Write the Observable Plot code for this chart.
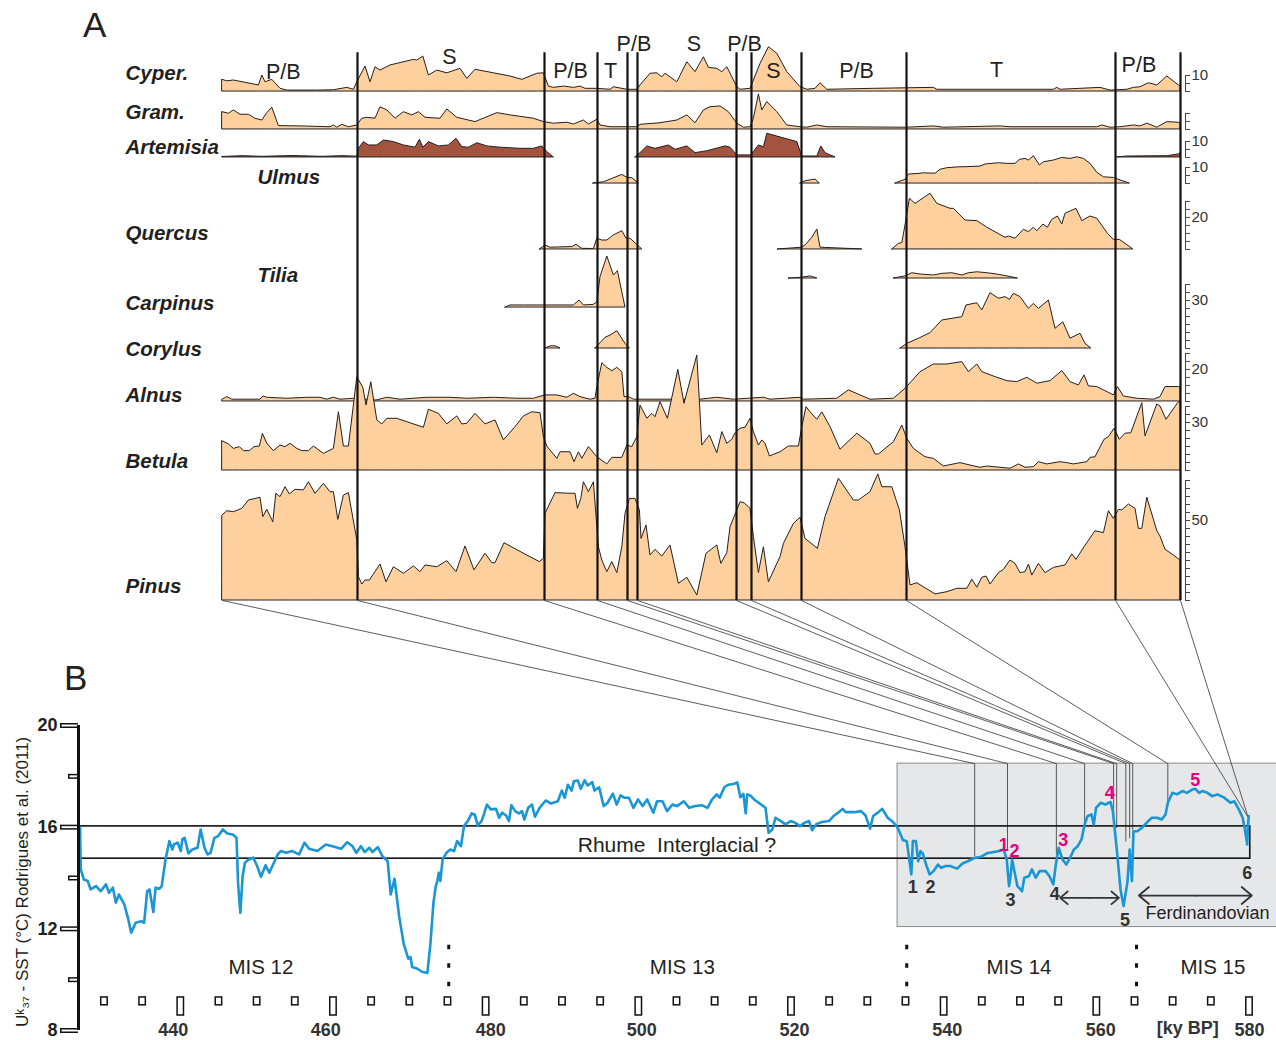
<!DOCTYPE html>
<html><head><meta charset="utf-8">
<script src="https://cdn.jsdelivr.net/npm/d3@7"></script>
<script src="https://cdn.jsdelivr.net/npm/@observablehq/plot@0.6"></script>
<style>
body{margin:0;background:#fff;font-family:"Liberation Sans",Arial,Helvetica,sans-serif;}
#fig{position:relative;width:1276px;height:1040px;overflow:hidden;background:#fff}
#fig svg{display:block}
.panel{position:absolute;font-size:35px;line-height:40px;color:#231f20}
</style></head><body>
<div id="fig">
  <div id="plotA"></div>
  <div id="plotB"></div>
  <div class="panel" style="left:83px;top:5px">A</div>
  <div class="panel" style="left:64px;top:658px">B</div>
</div>
<script>
// ---------------- DATA: panel A (pollen %, x = depth in cm) ----------------
const cyperus = [[[0,7.3],[2.4,6.4],[5.7,6.9],[18.2,3.8],[19.9,10],[21.5,5.8],[24.9,7.3],[29,1.7],[32.4,0.6],[47.4,0.6],[55.7,0.8],[62.4,2.3],[65.7,1.1],[67.4,5.8],[71.5,15.6],[74,5.8],[76.5,15.2],[79,13.1],[84,16.3],[95.7,19.8],[97.4,19.4],[100.4,21.9],[103.2,10],[107.4,13.1],[112.4,11.4],[119,14.2],[122.4,7.9],[126.5,13.6],[135.7,11.4],[144,9.4],[149.9,7.3],[157.4,11.1],[160.7,11.4],[163.2,3.1],[165.7,2.3],[170.7,3.1],[175.7,2.3],[179,3.1],[181.5,1.7],[187.4,1.7],[194,1.1],[195.7,2.7],[202.4,1.1],[207.4,1.1],[209,3.8],[214,11.1],[217.4,11.4],[219.9,8.9],[221.5,11.1],[227.4,5.8],[232.4,18.3],[236.5,12.1],[240.7,21.4],[243.2,14.8],[247.4,14.2],[249.9,12.1],[252.4,15.2],[257.4,2.7],[259,1.1],[264,1.7],[265.7,6.9],[269,17.3],[273.2,27.7],[277.4,23.6],[282.4,12.1],[289,2.7],[292.4,1.1],[296.5,1.7],[299,5.2],[302.4,1.1],[325.7,1.7],[355.7,2.3],[357.4,1.1],[415.7,1.1],[417.4,2.3],[419,1.1],[439,2.3],[444,0.6],[452.4,1.1],[455.7,2.3],[459,2.7],[463.2,5.2],[467.4,3.8],[472.4,9.4],[478.2,3.8],[479,3.1]]];
const gramineae = [[[0,10.8],[3.2,9.8],[5.7,11.9],[9,9.2],[13.2,9.2],[16.5,6.7],[19.9,5.6],[22.4,10.2],[24.9,13.6],[28.2,2.1],[39,1.9],[54,1.4],[55.7,2.5],[57.4,1.1],[59.9,2.9],[63.2,1.4],[67.4,2.5],[69.9,6.7],[72.4,7.3],[76.5,6.7],[79,13.9],[82.4,11.9],[86.5,6.7],[90.7,10.8],[94.9,8.8],[98.2,10.8],[101.5,7.3],[109,6.7],[112.4,12.5],[117.4,7.3],[126.5,4.6],[137.4,10.2],[144,8.8],[155.7,6.7],[160.7,4.6],[165.7,3.6],[172.4,4.2],[175.7,3.1],[180.7,5.6],[183.2,3.1],[187.4,6.1],[189,2.5],[194,1.4],[207.4,1.4],[209,2.9],[219,3.9],[227.4,5.6],[232.4,8.8],[236.5,3.9],[240.7,11.9],[244,13.9],[249,14.4],[253.2,10.8],[257.4,3.6],[260.7,1.1],[264,1.4],[265.7,6.7],[268.2,21.9],[269.9,11.9],[272.4,17.1],[277.4,10.8],[282.4,2.5],[289,1.4],[292.4,1.1],[297.4,2.5],[302.4,1.4],[342.4,1.1],[355.7,1.9],[360.7,1.1],[389,1.9],[394,1.4],[437.4,1.4],[439.9,2.5],[444,1.1],[449,1.4],[455.7,2.5],[459,1.9],[462.4,3.6],[467.4,1.1],[472.4,4.6],[478.2,4.2],[479,3.9]]];
const artemisia = [
  [[0,0.3],[10,0.8],[20,0.4],[35,0.9],[50,0.4],[60,0.8],[67.4,0.5],[68.2,5.4],[70.7,9.6],[73.2,7.5],[77.4,7.5],[80.7,10.6],[85.7,9.6],[90.7,7.5],[96.5,6.1],[98.7,11.1],[100.4,6.1],[103.2,9.6],[108.2,6.9],[113.2,7.5],[117,11.7],[119.9,6.4],[123.2,6.1],[127.4,8.9],[132.4,6.9],[139,6.1],[149,5.4],[155.7,5.4],[159.9,6.9],[162.4,3.3],[165.7,0]],
  [[206.5,0],[209,2.7],[212.4,6.9],[216.5,5.4],[223.2,7.5],[226.5,4.8],[232.4,6.9],[236.5,2.7],[242.4,3.9],[251.5,6.9],[254,6.1],[257.4,1.3],[264.4,1.3],[268.2,7.5],[270.7,6.4],[272.4,14.8],[287.4,9.6],[289.9,0.6],[297.4,0.6],[299.4,6.9],[301.5,2.7],[306.5,0]],
  [[447.4,0],[452.4,0.6],[472.4,0.8],[478.2,1.9],[479,2.7]]];
const ulmus = [
  [[185.4,0],[190.7,0.8],[194.9,2.9],[199.9,5.4],[202.4,3.6],[204.9,3.3],[208.2,0]],
  [[289,0],[291.5,1.4],[296.5,2.5],[298.7,0]],
  [[336.5,0],[341.5,2.3],[343.2,5.6],[349,6.1],[350.7,6.4],[356.5,6.1],[359,8.6],[362.4,9.6],[369,10.2],[371.5,10.2],[379,10.6],[381.5,11.9],[388.2,12.7],[392.4,12.3],[396.5,12.3],[398.7,14.8],[401.5,15.4],[403.2,14.4],[405.7,17.1],[408.7,11.3],[410.7,13.3],[415.7,14.4],[419.9,16],[424,15.4],[427.4,16.4],[430.7,15.4],[434,12.3],[437.4,6.7],[440.7,3.9],[445.7,3.5],[449,1.9],[453.7,0]]];
const quercus = [
  [[158.7,0],[161.5,2.5],[164,1.1],[174.9,1.5],[177,2.9],[179.9,0.4],[185.7,0.3],[187.4,6.7],[189.9,5.6],[192.4,5.6],[195.7,8.8],[199.9,11.4],[202,6.7],[204,6.7],[209.9,0]],
  [[277.7,0],[289.9,1.1],[291.5,2.5],[294.9,7.3],[297.4,12.5],[299,1.1],[319.9,0]],
  [[334.9,0],[338.2,3.5],[339.9,4],[341.5,15],[343.7,31.7],[346.5,28.5],[354,34.8],[357.4,28.5],[364,25.4],[365.7,25.4],[371.5,18.1],[377.4,17.7],[382.4,13.6],[391.5,7.3],[393.2,8.1],[396.5,6.7],[400.7,12.3],[403.2,10.8],[405.7,13.6],[407.4,11.4],[410.4,15.6],[412.7,13.6],[414.9,18.5],[417.7,20.6],[419.9,15.6],[421.5,22.3],[427,25.4],[429.9,17.7],[434,20.6],[437.4,19.2],[442.7,9.8],[445.7,6],[448.7,6],[455.4,0]]];
const tilia = [
  [[283.2,0],[289,0.4],[294,1.3],[297.4,0]],
  [[335.7,0],[341.5,1.3],[344.9,3.3],[349,2.5],[355.7,1.9],[359.9,2.9],[364.9,3.3],[369.9,1.9],[373.2,3.3],[377.4,3.9],[382.4,3.3],[387.4,2.5],[392.4,1.3],[397.7,0]]];
const carpinus = [[[141.5,0],[144,1.3],[150.7,1.3],[160.7,1.3],[175.7,1.3],[178.5,4.4],[180.7,1.3],[185.7,1.7],[187.4,3.3],[189,19],[192.4,31.9],[195.7,20],[197.7,22.7],[201.5,0]]];
const corylus = [
  [[161.5,0],[164,1.3],[166.5,1.4],[169,0]],
  [[186.5,0],[189,3.3],[191.5,6.7],[194,8.1],[197.4,10.8],[201.5,2.9],[203.7,0]],
  [[339,0],[342.4,2.9],[348.2,6.1],[354,9.6],[359.9,17.5],[369.9,19.6],[372,26.9],[377.4,28.3],[379.9,23.8],[384,34.6],[388.2,31.1],[391.5,32.1],[393.7,30.4],[395.7,34.2],[399,32.1],[403.2,24.8],[405.7,27.9],[408.2,24.8],[413.2,30],[416.5,12.3],[420.4,16.4],[424,6.1],[429,9.2],[431.5,2.9],[434.4,0]]];
const alnus = [[[0,1.1],[2.4,2.7],[4.9,1.1],[19,1.1],[20.4,3.1],[22.4,2.3],[32.4,1.7],[42.4,2.3],[49,2.3],[52.4,1.1],[55.7,2.3],[59,1.1],[65.7,1.7],[72,1.1],[77,0.6],[82.4,2.3],[89,1.1],[102.4,2.3],[114,2.3],[122.4,1.7],[135.7,2.3],[147.4,1.7],[155.7,1.7],[161.5,3.8],[167.4,3.8],[172.4,2.3],[175.7,4.8],[179,2.7],[184,1.1],[186.5,1.7],[187.4,8.9],[189.9,23.9],[192.4,21],[194.9,18.9],[197.4,21],[199.9,18.3],[201,2.7],[203.2,2.7],[205.7,1.1],[225.7,1.1],[239,1.1],[247.4,2.3],[255.7,1.1],[270.7,2.3],[274,1.1],[289,2.3],[290.7,1.1],[307.4,1.7],[313.2,6.9],[324,1.1],[335.7,1.7],[341.5,7.9],[349,18.3],[355.7,23.1],[362.4,23.1],[369.9,24.6],[373.2,18.3],[377.4,23.1],[379.9,18.3],[387.4,14.8],[392.4,12.7],[397.4,12.1],[402.4,14.8],[407.4,11.1],[414,12.7],[419.9,19],[424,12.1],[428.2,10],[431,16.3],[433.2,9.4],[437.4,9],[445.7,3.8],[447.7,9],[450.7,3.1],[457.4,1.7],[465.7,1.1],[469,2.7],[471.5,9],[478.2,9],[479,9]]];
const betula = [[[0,18.3],[3.2,16.3],[5.7,13.5],[8.7,14.6],[10.7,12.1],[13.7,12.1],[16,14.6],[18.7,15],[20.2,22.9],[22.4,16.7],[25.7,12.1],[29,15.6],[31.5,14.6],[34,16.7],[37.4,13.5],[39.9,12.1],[43.2,12.1],[45.7,15],[50.7,10.4],[55.7,13.5],[58.2,36.4],[60.7,15],[63.2,15],[67.4,58.3],[70.4,51.7],[72,40.6],[74.4,55.2],[77.4,31.3],[79.9,28.8],[82.4,32.3],[87.4,32.3],[100.7,26.7],[103.2,38],[108.2,35.4],[112.4,28.8],[117.4,33.8],[119.9,28.8],[122.4,29.2],[126.5,35.4],[131.5,28.8],[136.5,31.3],[140.7,18.8],[146.5,27.1],[150.7,33.8],[154.9,36.4],[159,35.8],[160.7,20.8],[162.4,15],[167.4,7.3],[169,11.4],[174,11.4],[176,5.2],[178.2,11.4],[179.9,7.3],[183.2,14.6],[187.4,8.3],[192.4,3.8],[194.9,7.9],[199.9,7.9],[202.4,15.6],[204.9,14.6],[207.4,20.8],[209,40.6],[212.4,32.3],[214.9,35.4],[216.5,33.3],[219,42.7],[222.7,32.3],[227.9,62.9],[231,41.7],[237.4,71.9],[239.9,15.6],[243.7,21.9],[247.4,10.8],[249.9,24],[252.4,16.7],[254.9,19.2],[256.5,23.3],[259,26.1],[261.5,26.7],[264,32.3],[265.7,24],[268.2,15.6],[269.9,18.8],[271.5,16.7],[273.7,8.8],[279,11.4],[283.2,15],[288.2,15],[289.9,27.1],[292,39.6],[294,36.4],[297.4,31.7],[299.9,36.4],[304,27.1],[309,13],[317.4,23],[324,16.7],[326.5,10],[328.2,10],[335.7,17.7],[339.9,28.1],[342.4,19.8],[345.7,13.5],[351.5,8.3],[355.7,7.3],[360.7,2.5],[369,4.6],[374,3.1],[379,1.7],[382.4,2.5],[389,1.7],[394,1.1],[398.2,3.8],[401.5,1.7],[405.7,2.1],[408.2,5.2],[412.4,3.8],[419,5.2],[422.4,4.6],[425.7,3.8],[432.4,5.2],[434,7.9],[436.5,8.3],[441,19.2],[443.2,20.8],[446,26.1],[448.7,19.2],[451.5,23],[454.4,23.3],[459.9,42.1],[461.5,21.3],[467.4,41.3],[469,40],[472,31.7],[478.2,42.7],[479,42.7]]];
const pinus = [[[0,53.1],[2.4,55.8],[5.7,55.2],[9.9,57.3],[13.2,62.5],[19,64.2],[20.4,52.1],[22.4,56.7],[25.4,48.9],[26.9,66.7],[29,64.6],[31.5,70.8],[33.7,66.3],[36.5,69.2],[40.7,68.8],[43.2,73.9],[46.5,66.7],[50.7,72.9],[54,67.7],[55.7,67.7],[57.9,50.4],[60.7,65.6],[63.2,67.1],[67.4,37.5],[68.2,14.6],[69.9,10],[71.5,12.5],[73.7,12.5],[79,22.5],[82,11.4],[85.7,20.8],[90.7,16.7],[95.7,21.3],[99,17.7],[101.5,21.9],[107.4,20.8],[112.4,24.6],[117,17.7],[121.5,33.8],[126,18.8],[131.5,29.2],[134.9,23.3],[136.5,23.3],[141,35.8],[152.4,28.1],[158.7,24],[160.7,26.1],[161.5,54.2],[166.5,67.1],[174,66.7],[176.5,66.7],[177.7,57.3],[179.4,63.5],[180.7,73.9],[183.2,67.7],[185.7,73.9],[188.2,33.3],[189.9,25],[192.4,17.7],[194.9,24],[197.4,17.1],[199.9,33.3],[201.5,54.2],[203.7,63.5],[206.5,63.5],[208.7,56.3],[209.5,38.5],[212,46.9],[214,28.1],[216.5,31.7],[219.9,27.5],[224,34.4],[228.2,10.4],[232.4,14.2],[237.4,3.1],[242,29.2],[247.4,34.4],[249.4,22.9],[252.4,29.6],[254,45.8],[259,61.4],[261,60.8],[264,57.3],[265.7,39.6],[268.2,17.1],[270.7,33.3],[273.2,11.4],[279,27.1],[280.7,35.4],[285.7,47.9],[289,51.7],[291.5,38.5],[297.7,32.3],[301.5,52.1],[308.2,76.1],[315.7,62.5],[318.2,62.5],[324,67.7],[327.9,78.8],[329.9,70.8],[334.9,70.8],[338.7,56.3],[341.5,33.3],[344,9.4],[347.4,10.8],[356.5,3.8],[362.4,5.2],[367.4,7.3],[372.4,7.3],[374.9,13],[377.4,8],[379.9,14.2],[382,15],[384,10],[388.2,17.1],[390.7,19.2],[394,25],[396.5,22.9],[399,17.1],[401.5,17.7],[403.2,22.5],[404.9,15.6],[408.2,22.9],[411.5,17.1],[415.7,20.4],[421.5,21.9],[424.9,28.8],[427,25.4],[431,33.3],[436.5,43.3],[440.7,42.1],[443.2,55.8],[445.7,51],[448.2,56.7],[449.9,56.3],[453.2,60],[456.5,57.3],[458.2,44.8],[459.9,44.8],[462.4,64.2],[467.4,43.3],[469,40],[471.5,31.7],[475.7,28.1],[479,25]]];

const taxonNames = ["Cyper.","Gram.","Artemisia","Ulmus","Quercus","Tilia","Carpinus","Corylus","Alnus","Betula","Pinus"];
const taxonSeries = [cyperus, gramineae, artemisia, ulmus, quercus, tilia, carpinus, corylus, alnus, betula, pinus];
// pollen zone boundaries (depth) and zone names
const zoneBounds = [67.5,161,187.5,202.5,207.5,257,264.5,289.5,342,446.5,479];
const zoneNames  = ["P/B","S","P/B","T","P/B","S","P/B","S","P/B","T","P/B"];
const zoneNameDepth = [30.4,113.5,174,194,205.7,235.7,261,275.4,317,387,458.2];
// percentage scale bars on the right: taxon, bar length (%), labelled value
const scaleTaxa  = ["Cyper.","Gram.","Artemisia","Ulmus","Quercus","Corylus","Alnus","Betula","Pinus"];
const scaleMax   = [10,10,10,10,30,40,30,40,75];
const scaleLabel = [10,null,10,10,20,30,20,30,50];

// ---------------- DATA: panel B (Uk37 SST, age ky BP) ----------------
const sstSeries = [[426.8,15.98],[426.9,14.34],[427.3,13.94],[427.8,13.88],[428.2,13.55],[428.9,13.68],[429.5,13.48],[430.2,13.75],[430.6,13.42],[431.1,13.62],[431.5,13.03],[431.9,13.35],[432.6,12.96],[433.1,12.4],[433.5,11.85],[434.1,12.24],[434.8,12.3],[435.2,12.24],[435.6,13.48],[435.9,13.55],[436.4,12.66],[436.7,13.62],[437.2,13.58],[437.5,13.68],[438.0,14.73],[438.5,15.45],[438.9,15.12],[439.1,15.32],[439.6,15.39],[440.0,15.06],[440.2,15.52],[440.5,15.58],[441.0,14.97],[441.5,15.12],[442.2,15.19],[442.6,15.91],[443.1,15.19],[443.5,14.93],[443.9,14.99],[444.4,15.58],[444.9,15.65],[445.5,15.91],[446.1,15.75],[446.8,15.71],[447.3,15.58],[447.5,13.81],[447.8,12.63],[448.1,14.07],[448.4,14.6],[448.9,14.73],[449.5,14.8],[450.0,14.47],[450.5,14.05],[451.1,14.5],[451.6,14.21],[452.0,14.47],[452.7,14.93],[453.1,15.06],[453.8,14.99],[454.6,15.06],[455.5,14.93],[456.2,15.39],[456.8,15.15],[457.9,15.06],[459.0,15.32],[460.1,15.23],[461.0,15.15],[461.8,15.41],[462.5,15.25],[463.0,14.99],[463.6,15.25],[464.1,15.02],[464.7,15.19],[465.1,15.02],[465.8,15.21],[466.4,14.86],[467.1,14.66],[467.5,13.35],[468.0,13.97],[468.6,12.5],[469.2,11.41],[469.8,10.83],[470.1,10.89],[470.3,10.5],[471.0,10.43],[471.3,10.37],[471.7,10.3],[472.3,10.26],[472.7,11.41],[473.1,13.03],[473.4,13.68],[473.6,13.88],[473.8,14.21],[474.0,13.88],[474.3,14.73],[474.8,14.99],[475.3,15.12],[475.8,15.06],[476.2,15.45],[476.7,15.25],[477.1,16.04],[477.6,16.24],[478.1,16.54],[478.5,16.5],[478.9,16.07],[479.4,16.24],[479.7,16.5],[480.1,16.89],[480.6,16.7],[481.3,16.72],[481.7,16.37],[482.1,16.57],[482.6,16.46],[483.0,16.24],[483.3,16.86],[483.8,16.63],[484.3,16.54],[484.7,16.63],[485.0,16.3],[485.5,16.76],[486.0,16.89],[486.4,16.41],[487.0,16.76],[487.8,17.05],[488.5,16.93],[489.4,17.02],[489.9,17.44],[490.3,17.16],[490.7,17.67],[491.2,17.44],[491.5,17.81],[492.0,17.84],[492.4,17.51],[492.9,17.84],[493.3,17.64],[493.9,17.77],[494.2,17.44],[494.8,17.57],[495.4,16.83],[495.9,16.96],[496.6,17.32],[497.1,16.89],[497.6,17.25],[498.1,17.16],[498.7,17.16],[499.3,16.76],[499.9,17.09],[500.5,16.83],[501.1,17.09],[501.9,16.57],[502.4,17.02],[503.1,17.02],[503.7,16.63],[504.4,16.89],[505.0,16.83],[505.9,17.02],[506.6,16.76],[507.4,16.83],[508.3,16.86],[509.0,16.76],[509.6,17.09],[510.2,17.29],[510.6,17.16],[511.2,17.57],[511.7,17.67],[512.4,17.7],[512.9,17.76],[513.3,17.18],[513.7,17.31],[514.0,16.54],[514.2,17.29],[514.6,17.25],[515.1,17.09],[515.7,16.96],[516.6,16.76],[517.0,15.78],[517.5,15.91],[517.9,16.37],[518.6,16.24],[519.2,16.11],[519.9,16.24],[520.5,16.17],[521.1,16.04],[521.7,16.17],[522.3,16.24],[522.7,15.88],[523.3,16.13],[524.0,16.2],[524.9,16.24],[525.6,16.46],[526.2,16.59],[526.7,16.72],[527.1,16.59],[528.2,16.59],[529.1,16.63],[529.7,16.46],[530.3,15.94],[530.7,16.44],[531.3,16.57],[531.9,16.72],[532.6,16.37],[533.3,16.2],[533.8,16.04],[534.2,15.78],[534.6,15.49],[535.1,15.45],[535.7,14.14],[535.9,15.45],[536.3,15.45],[536.6,14.66],[536.9,15.06],[537.2,14.97],[537.7,14.47],[538.1,14.14],[538.6,14.27],[539.2,14.53],[539.6,14.4],[540.2,14.47],[540.8,14.47],[541.7,14.37],[542.4,14.57],[543.1,14.66],[544.1,14.8],[544.8,14.83],[545.6,14.97],[546.5,15.02],[547.2,15.06],[547.8,15.12],[548.2,14.73],[548.5,13.68],[548.7,14.07],[548.9,14.73],[549.2,14.27],[549.6,13.68],[550.2,13.48],[550.5,14.01],[551.1,14.07],[551.5,14.34],[552.0,14.01],[552.5,14.27],[553.3,14.27],[553.8,14.07],[554.3,13.75],[554.6,14.47],[555.0,15.19],[555.5,14.73],[556.0,14.53],[556.6,14.86],[557.0,15.12],[557.5,15.25],[558.0,15.52],[558.4,16.11],[558.8,16.44],[559.3,16.5],[559.6,16.11],[559.9,16.76],[560.5,16.96],[561.1,16.89],[561.8,16.99],[562.1,16.63],[562.7,14.86],[563.1,13.55],[563.5,12.9],[564.0,13.81],[564.3,15.12],[564.6,13.88],[564.8,15.84],[565.3,15.84],[565.9,15.97],[566.6,16.2],[567.2,16.37],[567.9,16.37],[568.5,16.3],[569.0,16.5],[569.3,16.96],[569.9,17.35],[570.5,17.29],[571.2,17.42],[571.8,17.35],[572.5,17.48],[572.9,17.51],[573.4,17.35],[573.8,17.42],[574.5,17.35],[575.1,17.22],[575.8,17.29],[576.7,17.16],[577.5,16.96],[578.0,17.02],[578.6,16.7],[579.1,16.37],[579.4,15.91],[579.7,15.32],[579.8,16.04],[579.9,16.44]];
// correlation of pollen boundaries (depth) with SST record (age, SST at curve)
const corrDepth = [0,67.5,161,187.5,202.5,207.5,257,264.5,289.5,342,446.5,479];
const corrAge   = [544.0,548.3,554.7,558.4,562.2,562.6,563.8,564.3,564.7,569.3,579.8,579.8];
const corrSST   = [14.86,15.15,14.93,16.11,16.11,15.98,15.45,15.58,15.91,16.85,16.4,16.4];
const corrViaBox = [true,true,true,true,true,true,true,true,true,true,false,false];
const misBounds = [475.1,535.1,565.2];
const misNames = ["MIS 12","MIS 13","MIS 14","MIS 15"];
const misNameAge = [450.5,505.7,549.8,575.2];
const eventBlack = ["1","2","3","4","5","6"];
const eventBlackAge = [535.9,538.2,548.7,554.5,563.7,579.7];
const eventBlackSST = [13.64,13.64,13.14,13.35,12.33,14.2];
const eventPink = ["1","2","3","4","5"];
const eventPinkAge = [547.8,549.2,555.6,561.7,572.9];
const eventPinkSST = [15.3,15.06,15.5,17.34,17.84];
const arrowSpans = [[555.2,562.9,13.22],[565.5,580.3,13.31]];
const xMajorTicks = [440,460,480,500,520,540,560,580];
const xMajorLabelAge = [439,459,480.6,500.4,520.4,540.4,560.5,580];
const xMinorTicks = [430,435,445,450,455,465,470,475,485,490,495,505,510,515,525,530,535,545,550,555,565,570,575];
const yMajorTicks = [8,12,16,20];
const yMinorTicks = [10,14,18];

// ---------------- LAYOUT (styles / positions) ----------------
const FONT = '"Liberation Sans", Arial, Helvetica, sans-serif';
const INK = "#231f20";
const POLLEN_FILL = "#fdd09d";
const ARTEMISIA_FILL = "#a3533e";
const SST_BLUE = "#1996d5";
const PINK = "#e5007d";
// row baselines of panel A, in % units above the Pinus baseline (1% = 1.6 px)
const rowBase = [318.1,294.4,276.9,260.6,219.4,201.25,183.1,157.5,124.4,81.25,0];
const labelCenter = [329.6,305.2,282.9,264.6,229.6,203.1,185.8,156.7,128.1,87.1,8.75];
const labelIndented = [false,false,false,true,false,true,false,false,false,false,false];
const zoneTop = 342.3;
const zoneNameY = [330.2,339.6,330.8,330.8,347.5,347.5,347.5,330.8,330.8,331.25,334.8];
const depthEnd = 479;
const barX = depthEnd + 2.5;
const ageAxis = 426.6, ageEnd = 580;
const grayBox = {a1: 533.9, a2: 584.5, t1: 12.07, t2: 18.5};
const rhumeBand = {a1: ageAxis, a2: 580.1, t1: 14.76, t2: 16.03};
const xBox = {top: 9.3, minorBottom: 8.99, majorBottom: 8.59, half: 0.42};

// ---------------- PANEL A ----------------
const baseOf = Object.fromEntries(taxonNames.map((n, i) => [n, rowBase[i]]));
const pollenRows = [];
taxonSeries.forEach((segs, ti) => segs.forEach((seg, si) => seg.forEach(([d, v]) =>
  pollenRows.push({taxon: taxonNames[ti], key: taxonNames[ti] + "#" + si, depth: d, pct: v, base: rowBase[ti]}))));
const labelRows = taxonNames.map((n, i) => ({name: n, y: labelCenter[i], indent: labelIndented[i]}));
const zoneLabelRows = zoneNames.map((n, i) => ({name: n, depth: zoneNameDepth[i], y: zoneNameY[i]}));
const barRows = scaleTaxa.map((t, i) => ({taxon: t, base: baseOf[t], max: scaleMax[i], label: scaleLabel[i]}));
const barTicks = barRows.flatMap(b => d3.range(0, b.max + 0.01, 5).map(v => ({y: b.base + v})));

const plotA = Plot.plot({
  width: 1276, height: 600,
  marginTop: 0, marginRight: 0, marginBottom: 0, marginLeft: 125,
  style: {fontFamily: FONT, background: "white", overflow: "visible", color: INK},
  x: {domain: [0, depthEnd], range: [222, 1180], axis: null},
  y: {domain: [0, 375], range: [600, 0], axis: null},
  marks: [
    Plot.areaY(pollenRows, {x: "depth", y1: "base", y2: d => d.base + d.pct, z: "key",
      fill: d => d.taxon === "Artemisia" ? ARTEMISIA_FILL : POLLEN_FILL,
      stroke: INK, strokeWidth: 1, strokeLinejoin: "round"}),
    Plot.ruleX(zoneBounds, {x: d => d, y1: 0, y2: zoneTop, stroke: "#111", strokeWidth: 2.2}),
    Plot.text(labelRows.filter(d => !d.indent), {frameAnchor: "left", y: "y", text: "name", textAnchor: "start",
      fontSize: 20.5, fontWeight: "bold", fontStyle: "italic", fill: INK}),
    Plot.text(labelRows.filter(d => d.indent), {frameAnchor: "left", dx: 132, y: "y", text: "name", textAnchor: "start",
      fontSize: 20.5, fontWeight: "bold", fontStyle: "italic", fill: INK}),
    Plot.text(zoneLabelRows, {x: "depth", y: "y", text: "name", fontSize: 21.5, fill: INK}),
    Plot.ruleX(barRows, {x: () => barX, y1: "base", y2: d => d.base + d.max, stroke: "#444", strokeWidth: 1}),
    Plot.ruleY(barTicks, {y: "y", x1: barX, x2: barX + 2.5, stroke: "#444", strokeWidth: 1}),
    Plot.text(barRows.filter(d => d.label != null), {x: barX + 2.5, y: d => d.base + d.label, text: d => String(d.label),
      textAnchor: "start", dx: 1, fontSize: 15, fill: "#333"})
  ]
});
document.getElementById("plotA").append(plotA);

// ---------------- PANEL B ----------------
const xBopts = {domain: [ageAxis, ageEnd], range: [78, 1249]};
const yBopts = {domain: [8, 20], range: [430, 125]};
const xA = plotA.scale("x");
const xB = Plot.scale({x: xBopts});
const yB = Plot.scale({y: yBopts});
const topSST = yB.invert(0);   // panel A bottom edge, in SST units

const corrPts = corrDepth.flatMap((d, i) => {
  const topAge = xB.invert(xA.apply(d));
  const pts = [{i, x: topAge, y: topSST}];
  if (corrViaBox[i]) pts.push({i, x: corrAge[i], y: grayBox.t2});
  pts.push({i, x: corrAge[i], y: corrSST[i]});
  return pts;
});
const sstRows = sstSeries.map(([a, t]) => ({age: a, sst: t}));
const arrowRows = arrowSpans.flatMap(([a1, a2, t]) => [
  {x1: (a1 + a2) / 2, x2: a1, y: t}, {x1: (a1 + a2) / 2, x2: a2, y: t}]);
const blackRows = eventBlack.map((s, i) => ({s, a: eventBlackAge[i], t: eventBlackSST[i]}));
const pinkRows = eventPink.map((s, i) => ({s, a: eventPinkAge[i], t: eventPinkSST[i]}));
const misRows = misNames.map((s, i) => ({s, a: misNameAge[i]}));
const xLabelRows = xMajorTicks.map((v, i) => ({v, a: xMajorLabelAge[i]}));

const plotB = Plot.plot({
  width: 1276, height: 440,
  marginTop: 0, marginRight: 0, marginBottom: 43, marginLeft: 78,
  style: {fontFamily: FONT, background: "white", overflow: "visible", color: INK},
  x: {...xBopts, axis: null},
  y: {...yBopts, label: null},
  marks: [
    Plot.rect([grayBox], {x1: "a1", x2: "a2", y1: "t1", y2: "t2", fill: "#e6e7e8", stroke: "#8a8a8a", strokeWidth: 1}),
    Plot.line(corrPts, {x: "x", y: "y", z: "i", stroke: "#333", strokeWidth: 0.8}),
    Plot.rect([rhumeBand], {x1: "a1", x2: "a2", y1: "t1", y2: "t2", fill: "none", stroke: "#111", strokeWidth: 1.6}),
    Plot.text(["Rhume  Interglacial ?"], {x: 505.0, y: 15.28, text: d => d, fontSize: 21, fill: INK}),
    Plot.ruleX(misBounds, {x: d => d, y1: 11.35, y2: 9.69, stroke: "#111", strokeWidth: 3, strokeDasharray: "4.5 14"}),
    Plot.text(misRows, {x: "a", y: 10.49, text: "s", fontSize: 20.5, fill: INK}),
    Plot.line(sstRows, {x: "age", y: "sst", stroke: SST_BLUE, strokeWidth: 2.6, strokeLinejoin: "round"}),
    Plot.arrow(arrowRows, {x1: "x1", x2: "x2", y1: "y", y2: "y", stroke: "#333", strokeWidth: 1.8, headLength: 11, headAngle: 80}),
    Plot.text(["Ferdinandovian"], {x: 574.5, y: 12.62, text: d => d, fontSize: 18, fill: INK}),
    Plot.text(blackRows, {x: "a", y: "t", text: "s", fontSize: 18, fontWeight: "bold", fill: "#333"}),
    Plot.text(pinkRows, {x: "a", y: "t", text: "s", fontSize: 18, fontWeight: "bold", fill: PINK}),
    // y axis
    Plot.axisY({ticks: yMajorTicks, anchor: "left", tickSize: 18, tickPadding: 3, stroke: "#111", strokeWidth: 5,
      fontSize: 18, fontWeight: "bold", fill: INK, label: null, tickFormat: d => String(d)}),
    Plot.axisY({ticks: yMajorTicks, anchor: "left", tickSize: 16.5, stroke: "white", strokeWidth: 2, label: null, tickFormat: () => ""}),
    Plot.axisY({ticks: yMinorTicks, anchor: "left", tickSize: 10, stroke: "#111", strokeWidth: 5, label: null, tickFormat: () => ""}),
    Plot.axisY({ticks: yMinorTicks, anchor: "left", tickSize: 8.5, stroke: "white", strokeWidth: 2, label: null, tickFormat: () => ""}),
    Plot.ruleX([ageAxis], {x: d => d, y1: 8, y2: 20, stroke: "#111", strokeWidth: 3}),
    Plot.text(["U\u1D4F\u2083\u2087 - SST (\u00B0C) Rodrigues et al. (2011)"], {frameAnchor: "left", dx: -56, y: 13.85, text: d => d,
      rotate: -90, textAnchor: "middle", fontSize: 17, fill: INK}),
    // x axis (hollow tick boxes)
    Plot.rect(xMinorTicks, {x1: d => d - xBox.half, x2: d => d + xBox.half, y1: xBox.minorBottom, y2: xBox.top,
      fill: "white", stroke: "#111", strokeWidth: 1.5}),
    Plot.rect(xMajorTicks, {x1: d => d - xBox.half, x2: d => d + xBox.half, y1: xBox.majorBottom, y2: xBox.top,
      fill: "white", stroke: "#111", strokeWidth: 1.5}),
    Plot.text(xLabelRows, {x: "a", y: 8, text: d => String(d.v), fontSize: 18, fontWeight: "bold", fill: "#333"}),
    Plot.text(["[ky BP]"], {x: 571.9, y: 8.1, text: d => d, fontSize: 18, fontWeight: "bold", fill: "#333"})
  ]
});
document.getElementById("plotB").append(plotB);
</script>
</body></html>
